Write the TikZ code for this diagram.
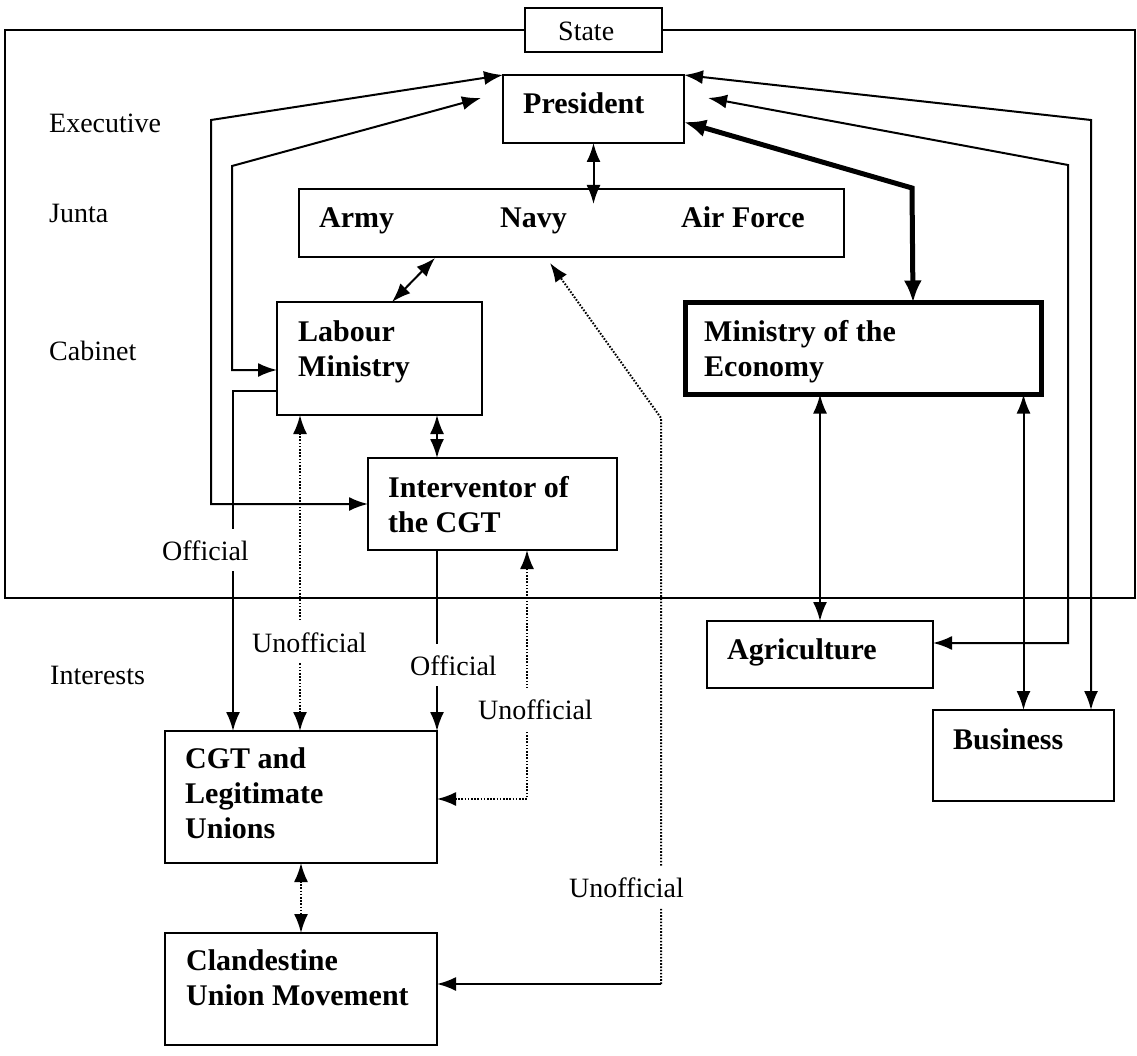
\documentclass[tikz,border=0pt]{standalone}
\usepackage{fontspec}
\setmainfont{Liberation Serif}
\usetikzlibrary{arrows.meta,calc}

\begin{document}
\begin{tikzpicture}[x=1pt,y=-1pt,
  >={Latex[length=19pt,width=14pt]},
  frame/.style={line width=2pt},
  box/.style={draw,line width=2pt,inner sep=0pt,outer sep=0pt,fill=white},
  heavybox/.style={box,line width=5pt},
  btxt/.style={inner sep=0pt,anchor=base west,align=left,font=\fontsize{30}{35}\selectfont\bfseries},
  rtxt/.style={inner sep=0pt,anchor=base west,font=\fontsize{28}{33}\selectfont},
  cut/.style={rtxt,fill=white,inner xsep=2pt,inner ysep=11pt},
  link/.style={line width=2pt,<->},
  link1/.style={line width=2pt,->},
  dlink/.style={link,dash pattern=on 1.6pt off 1.6pt},
  dlink1/.style={link1,dash pattern=on 1.6pt off 1.6pt},
  heavylink/.style={line width=5pt,arrows={Latex[length=22pt,width=18pt]-Latex[length=22pt,width=18pt]}}
]
\useasboundingbox (0,0) rectangle (1137,1056);

% state frame with its title box
\node[box,minimum width=137pt,minimum height=44pt] (state) at (593.5,30) {};
\draw[frame] (state.west) -- (5,30) -- (5,598) -- (1135,598) -- (1135,30) -- (state.east);
\node[rtxt] (stateT) at (558,41) {State};

% row headings
\node[rtxt] (rExec) at (49,133) {Executive};
\node[rtxt] (rJunta) at (49,223) {Junta};
\node[rtxt] (rCab) at (49,360) {Cabinet};
\node[rtxt] (rInt) at (50,684) {Interests};

% actors
\node[box,minimum width=181pt,minimum height=68pt] (pres) at (593.5,109) {};
\node[box,minimum width=545pt,minimum height=68pt] (junta) at (571.5,223) {};
\node[box,minimum width=205pt,minimum height=113pt] (lab) at (379.5,358.5) {};
\node[box,minimum width=249pt,minimum height=92pt] (interv) at (492.5,504) {};
\node[heavybox,minimum width=356pt,minimum height=92pt] (econ) at (863,348.5) {};
\node[box,minimum width=226pt,minimum height=67pt] (agri) at (820,654.5) {};
\node[box,minimum width=181pt,minimum height=91pt] (bus) at (1023.5,755.5) {};
\node[box,minimum width=272pt,minimum height=132pt] (cgt) at (301,797) {};
\node[box,minimum width=272pt,minimum height=112pt] (cland) at (301,989) {};

% box texts (multi-line nodes are placed by their last baseline)
\node[btxt] (presT) at (523,114) {President};
\node[btxt] (army) at (319,228) {Army};
\node[btxt] (navy) at (500,228) {Navy};
\node[btxt] (airf) at (681,228) {Air Force};
\node[btxt] (labT) at (298,376) {Labour\\Ministry};
\node[btxt] (intT) at (388,532) {Interventor of\\the CGT};
\node[btxt] (econT) at (704,376) {Ministry of the\\Economy};
\node[btxt] (agriT) at (727,659) {Agriculture};
\node[btxt] (busT) at (953,749) {Business};
\node[btxt] (cgtT) at (185,838) {CGT and\\Legitimate\\Unions};
\node[btxt] (clandT) at (186,1005) {Clandestine\\Union Movement};

% free ends and turning points
\coordinate (ptipL) at (481,98);
\coordinate (ptipR) at (708,98);
\coordinate (uturn) at (661,984);

% links inside the state
\draw[link] (pres.south) -- ($(junta.north west)+(294.5,15)$);
\draw[link] ($(junta.south west)+(136,1)$) -- ($(lab.north west)+(115,0)$);
\draw[link] ($(lab.south west)+(160,0)$) -- ($(interv.north west)+(69,0)$);
\draw[link] (interv.west) -| (211,120) -- (pres.north west);
\draw[link] ($(lab.north west)+(0,68)$) -| (232,166) -- (ptipL);
\draw[heavylink] ($(pres.east)+(0,13)$) -- (912,188) -- ($(econ.north west)+(228,0)$);

% links to the interests
\draw[link1] ($(lab.north west)+(0,89)$) -| ($(cgt.north west)+(68,0)$);
\draw[dlink] ($(cgt.north west)+(135,0)$) -- ($(lab.south west)+(23,0)$);
\draw[link1] ($(interv.south west)+(69,0)$) -- (cgt.north east);
\draw[dlink] ($(cgt.east)+(0,2)$) -| ($(interv.south west)+(159,0)$);
\draw[dlink1] (uturn) -- (661,418) -- ($(junta.south west)+(251,6)$);
\draw[link1] (uturn) -- ($(cland.east)+(0,-5)$);
\draw[dlink] (cgt.south) -- (cland.north);
\draw[link] (pres.north east) -- (1091,120) -- ($(bus.north west)+(158,0)$);
\draw[link] (ptipR) -- (1068,165) |- ($(agri.east)+(0,-11.5)$);
\draw[link] ($(econ.south west)+(135,0)$) -- (agri.north);
\draw[link] ($(econ.south west)+(338.5,0)$) -- (bus.north);

% channel labels
\node[cut] (off1) at (160,560) {Official};
\node[cut] (unoff1) at (250,652) {Unofficial};
\node[cut] (off2) at (408,675) {Official};
\node[cut] (unoff2) at (476,719) {Unofficial};
\node[cut] (unoff3) at (567,897) {Unofficial};
\end{tikzpicture}
\end{document}
